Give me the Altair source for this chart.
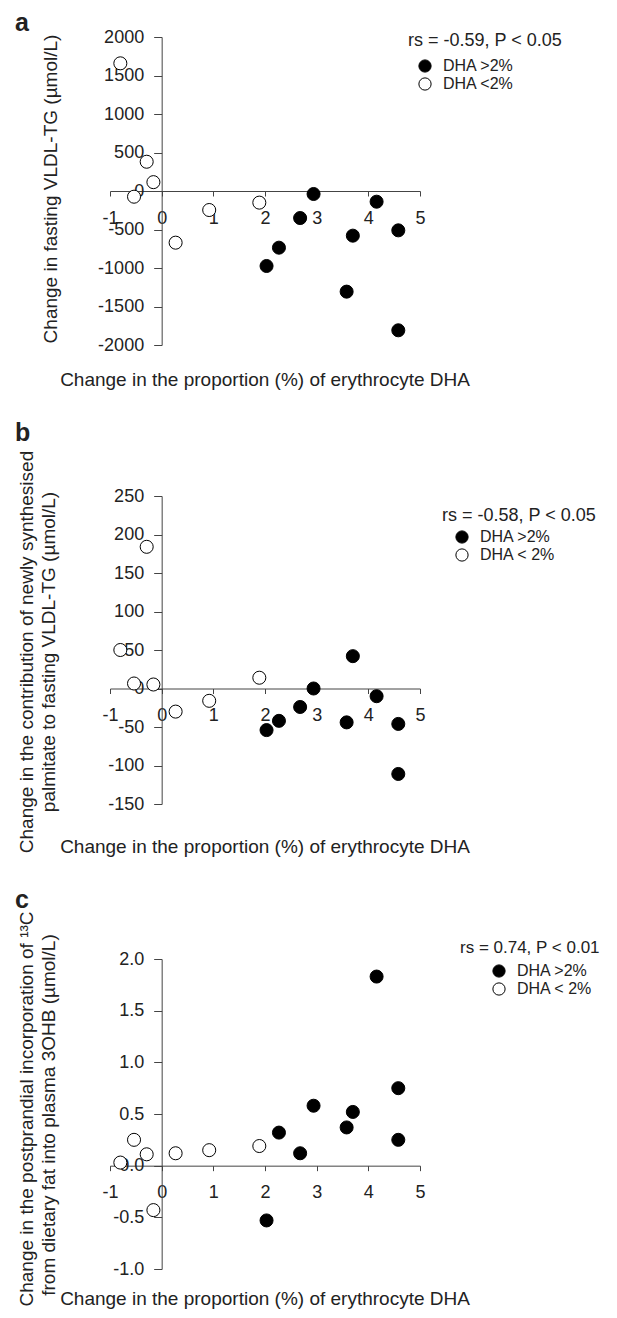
import altair as alt
import pandas as pd

FONT = "Liberation Sans, Arial, Helvetica, sans-serif"
TXT = "#222222"
AX = "#444444"

# Change in erythrocyte DHA (%), shared by all panels
x_open = [-0.80, -0.535, -0.29, -0.16, 0.27, 0.92, 1.89]
x_filled = [2.03, 2.27, 2.68, 2.94, 3.58, 3.70, 4.16, 4.58, 4.58]

# Panel a: change in fasting VLDL-TG (umol/L)
a_open = [1658, -74, 380, 115, -671, -247, -151]
a_filled = [-974, -736, -351, -39, -1307, -580, -139, -511, -1809]

# Panel b: newly synthesised palmitate contribution (umol/L)
b_open = [50, 6.5, 184, 5.2, -30, -16, 14]
b_filled = [-54, -42, -24, 0, -44, 42, -10, -46, -111]

# Panel c: 13C incorporation into plasma 3OHB (umol/L)
c_open = [0.03, 0.25, 0.11, -0.43, 0.12, 0.15, 0.19]
c_filled = [-0.53, 0.32, 0.12, 0.58, 0.37, 0.52, 1.83, 0.75, 0.25]

x_ticks = [-1, 0, 1, 2, 3, 4, 5]
a_ticks = [-2000, -1500, -1000, -500, 0, 500, 1000, 1500, 2000]
b_ticks = [-150, -100, -50, 0, 50, 100, 150, 200, 250]
c_ticks = [-1.0, -0.5, 0.0, 0.5, 1.0, 1.5, 2.0]

x_title = "Change in the proportion (%) of erythrocyte DHA"
MINUS = "replace(datum.label, '\u2212', '-')"

W = 310          # plot width of each panel
H = 1232         # from top of panel a to bottom of panel c
X0 = W / 6       # pixel of x = 0


def txt(s, x, y, size=19, angle=0, weight="normal", align="center", baseline="middle"):
    return alt.Chart(pd.DataFrame({"t": [s]})).mark_text(
        font=FONT, fontSize=size, angle=angle, fontWeight=weight,
        align=align, baseline=baseline, color=TXT
    ).encode(x=alt.value(x), y=alt.value(y), text="t:N")


def points(key, open_y, filled_y, labels, ydom, yticks, yfmt, top, h,
           leg_title, leg_x, leg_y, sym_off, title_pad, title_size=18):
    df = pd.DataFrame({
        "x_" + key: x_filled + x_open,
        "y_" + key: filled_y + open_y,
        "g_" + key: [labels[0]] * len(filled_y) + [labels[1]] * len(open_y),
    })
    y0 = top + h * ydom[1] / (ydom[1] - ydom[0])
    return alt.Chart(df).mark_point(
        filled=True, shape="circle", size=170, stroke="black",
        strokeWidth=1, opacity=1
    ).encode(
        x=alt.X("x_" + key + ":Q",
                scale=alt.Scale(domain=[-1, 5], nice=False, zero=False),
                axis=alt.Axis(orient="bottom", values=x_ticks, offset=y0 - H,
                              tickSize=5, labelPadding=13, title=None, grid=False,
                              labelFontSize=18, labelFont=FONT, labelColor=TXT,
                              domainColor=AX, tickColor=AX, labelExpr=MINUS,
                              labelOverlap=False, labelFlush=False)),
        y=alt.Y("y_" + key + ":Q",
                scale=alt.Scale(domain=ydom, range=[top + h, top], nice=False, zero=False),
                axis=alt.Axis(orient="left", values=yticks, format=yfmt, offset=-X0,
                              tickSize=8, labelPadding=10, title=None, grid=False,
                              labelFontSize=18, labelFont=FONT, labelColor=TXT,
                              domainColor=AX, tickColor=AX, labelExpr=MINUS,
                              labelOverlap=False, labelFlush=False)),
        fill=alt.Fill("g_" + key + ":N",
                      scale=alt.Scale(domain=labels, range=["black", "white"]),
                      legend=alt.Legend(
                          title=leg_title, orient="none", legendX=leg_x, legendY=leg_y,
                          titleFontSize=title_size, titleFont=FONT,
                          titleFontWeight="normal",
                          titleColor=TXT, labelFontSize=16, labelFont=FONT,
                          labelColor=TXT, symbolSize=150, symbolType="circle",
                          symbolStrokeColor="black", symbolStrokeWidth=1,
                          symbolOffset=sym_off, labelOffset=10,
                          titlePadding=title_pad, rowPadding=0, padding=0,
                          titleLimit=400, labelLimit=300)),
    )


A_TOP, A_H = 0, 308
B_TOP, B_H = 459, 308
C_TOP, C_H = 922, 310

layers = [
    points("a", a_open, a_filled, ["DHA >2%", "DHA <2%"], [-2000, 2000], a_ticks, "d",
           A_TOP, A_H, "rs = -0.59, P < 0.05", 298, -5, 9, 8),
    points("b", b_open, b_filled, ["DHA >2%", "DHA < 2%"], [-150, 250], b_ticks, "d",
           B_TOP, B_H, "rs = -0.58, P < 0.05", 332, 470, 12, 4),
    points("c", c_open, c_filled, ["DHA >2%", "DHA < 2%"], [-1, 2], c_ticks, ".1f",
           C_TOP, C_H, "rs = 0.74, P < 0.01", 350, 903, 31, 6, title_size=17),
    # panel letters
    txt("a", -95, -6, size=25, weight="bold", align="left", baseline="alphabetic"),
    txt("b", -95, 404, size=25, weight="bold", align="left", baseline="alphabetic"),
    txt("c", -95, 871, size=25, weight="bold", align="left", baseline="alphabetic"),
    # x-axis titles
    txt(x_title, W / 2, 343),
    txt(x_title, W / 2, 810),
    txt(x_title, W / 2, 1262),
    # y-axis titles
    txt("Change in fasting VLDL-TG (\u00b5mol/L)", -59, 152, angle=270),
    txt("Change in the contribution of newly synthesised", -83, 615, angle=270),
    txt("palmitate to fasting VLDL-TG (\u00b5mol/L)", -61, 615, angle=270),
    txt("Change in the postprandial incorporation of \u00b9\u00b3C", -83, 1072, angle=270),
    txt("from dietary fat into plasma 3OHB (\u00b5mol/L)", -61, 1078, angle=270),
]

chart = alt.layer(*layers).resolve_scale(
    x="independent", y="independent", fill="independent"
).resolve_axis(x="independent", y="independent").resolve_legend(
    fill="independent"
).properties(
    width=W, height=H,
    autosize=alt.AutoSizeParams(type="none"),
    padding={"left": 102, "top": 29, "right": 189, "bottom": 40},
).configure_view(stroke=None)

chart.save("out.html", embed_options={"renderer": "svg", "actions": False})
